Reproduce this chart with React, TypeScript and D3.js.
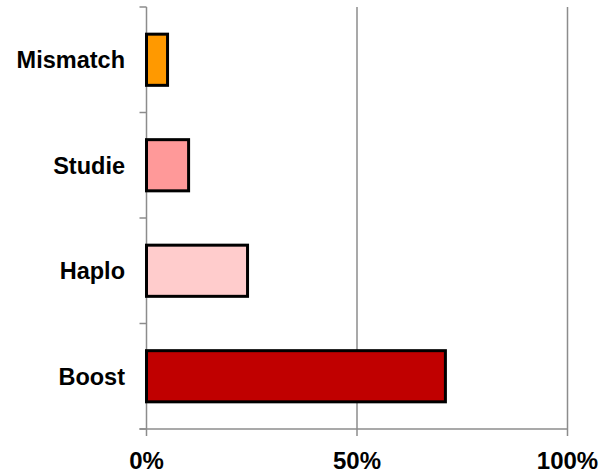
import React from "react";
import * as d3 from "d3";

const categories = ["Mismatch", "Studie", "Haplo", "Boost"];
const values = [0.05, 0.1, 0.24, 0.71];
const colors = ["#FF9900", "#FF9999", "#FFCCCC", "#C00000"];
const xTicks = [0, 0.5, 1];
const xTickLabels = ["0%", "50%", "100%"];

const W = 604;
const H = 473;
const left = 146.5;
const right = 567.5;
const top = 7;
const bottom = 429;

export default function App() {
  const x = d3.scaleLinear().domain([0, 1]).range([left, right]);
  const y = d3.scaleBand<string>().domain(categories).range([top, bottom]).padding(0);
  const step = y.step();
  const barH = step * 0.485;
  const grid = "#8C8C8C";
  const font = "'Liberation Sans', Arial, sans-serif";
  const boundaries = d3.range(categories.length + 1).map((i) => top + i * step);

  return (
    <svg
      width={W}
      height={H}
      style={{ position: "absolute", left: 0, top: 0, background: "#fff" }}
    >
      {/* vertical gridlines */}
      {xTicks.map((t, i) => (
        <line key={"g" + i} x1={x(t)} x2={x(t)} y1={top} y2={bottom + 7} stroke={grid} strokeWidth={1.5} />
      ))}
      {/* bottom axis */}
      <line x1={left - 7} x2={right} y1={bottom} y2={bottom} stroke={grid} strokeWidth={1.5} />
      {/* y ticks */}
      {boundaries.map((b, i) => (
        <line key={"yt" + i} x1={left - 7} x2={left} y1={b} y2={b} stroke={grid} strokeWidth={1.5} />
      ))}
      {/* bars */}
      {categories.map((c, i) => {
        const cy = (y(c) as number) + step / 2;
        return (
          <rect
            key={c}
            x={x(0)}
            y={cy - barH / 2}
            width={x(values[i]) - x(0)}
            height={barH}
            fill={colors[i]}
            stroke="#000"
            strokeWidth={3}
          />
        );
      })}
      {/* y labels */}
      {categories.map((c) => {
        const cy = (y(c) as number) + step / 2;
        return (
          <text
            key={"l" + c}
            x={125}
            y={cy + 8.3}
            textAnchor="end"
            fontFamily={font}
            fontWeight="bold"
            fontSize={23.5}
            fill="#000"
          >
            {c}
          </text>
        );
      })}
      {/* x labels */}
      {xTicks.map((t, i) => (
        <text
          key={"xl" + i}
          x={x(t)}
          y={469}
          textAnchor="middle"
          fontFamily={font}
          fontWeight="bold"
          fontSize={24}
          fill="#000"
        >
          {xTickLabels[i]}
        </text>
      ))}
    </svg>
  );
}
